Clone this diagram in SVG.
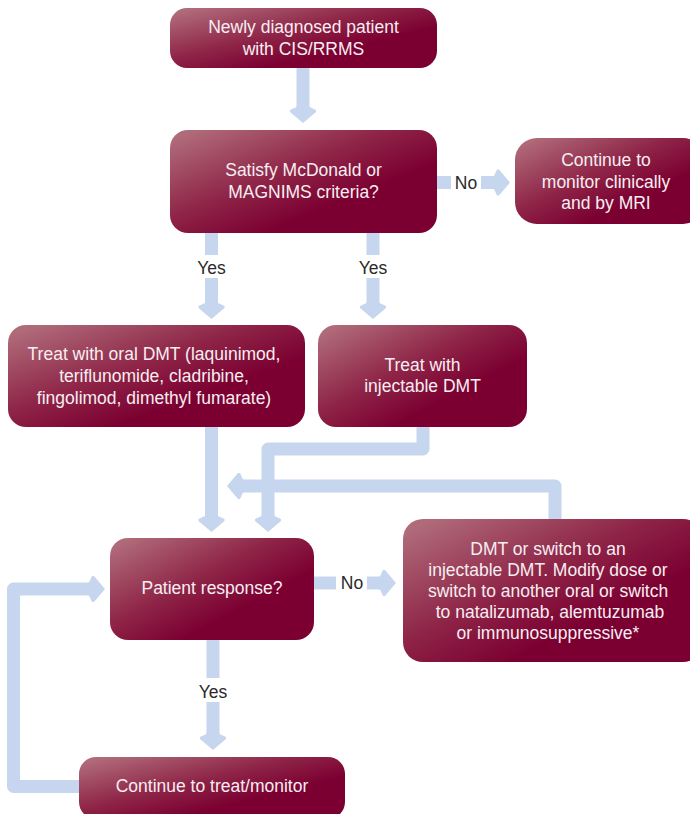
<svg xmlns="http://www.w3.org/2000/svg" width="690" height="814" viewBox="0 0 690 814">
<defs>
<linearGradient id="g" x1="0" y1="0.1" x2="0.85" y2="0.9">
<stop offset="0" stop-color="#b06b7a"/>
<stop offset="0.45" stop-color="#8e2447"/>
<stop offset="0.75" stop-color="#7b0031"/>
<stop offset="1" stop-color="#7b0031"/>
</linearGradient>
<marker id="ah" markerUnits="userSpaceOnUse" markerWidth="20" markerHeight="30" refX="0" refY="15" orient="auto" overflow="visible">
<path d="M-1,8.5 L0,8.5 L3,2 L5,2 L16,15 L5,28 L3,28 L0,21.5 L-1,21.5 Z" fill="#c6d6ee"/>
</marker>
<style>
.box{fill:url(#g)}
.t{font-family:"Liberation Sans",Arial,sans-serif;font-size:17.5px;fill:#f7eef1;text-anchor:middle}
.l{font-family:"Liberation Sans",Arial,sans-serif;font-size:17.5px;fill:#2a2a2a;text-anchor:middle}
.c{fill:none;stroke:#c6d6ee;stroke-width:13;stroke-linejoin:round}
.a{marker-end:url(#ah)}
</style>
</defs>
<g id="connectors">
<path class="c a" d="M303,68 V107"/>
<path class="c" d="M437,182.5 H451"/>
<path class="c a" d="M481,182.5 H494"/>
<text class="l" x="466" y="188.5">No</text>
<path class="c" d="M211.5,233 V255"/>
<path class="c a" d="M211.5,278 V303"/>
<text class="l" x="211.5" y="274">Yes</text>
<path class="c" d="M373,233 V255"/>
<path class="c a" d="M373,278 V303"/>
<text class="l" x="373" y="274">Yes</text>
<path class="c a" d="M211.5,427 V516"/>
<path class="c a" d="M423,427 V449 H268 V516"/>
<path class="c a" d="M555,519 V486 H243"/>
<path class="c" d="M313,583 H336"/>
<path class="c a" d="M367,583 H380"/>
<text class="l" x="352" y="589">No</text>
<path class="c" d="M213,640 V678"/>
<path class="c a" d="M213,702 V734"/>
<text class="l" x="213" y="698">Yes</text>
<path class="c a" d="M79,786.5 H13.5 V589 H89"/>
</g>
<g id="n1"><rect class="box" x="170" y="8" width="267" height="60" rx="17"/>
<text class="t" x="303.5" y="33">Newly diagnosed patient</text>
<text class="t" x="303.5" y="55">with CIS/RRMS</text></g>
<g id="n2"><rect class="box" x="170" y="130" width="267" height="103" rx="18"/>
<text class="t" x="303.5" y="176">Satisfy McDonald or</text>
<text class="t" x="303.5" y="198">MAGNIMS criteria?</text></g>
<g id="n3"><rect class="box" x="515" y="138" width="190" height="86" rx="22"/>
<text class="t" x="606" y="166">Continue to</text>
<text class="t" x="606" y="187.5">monitor clinically</text>
<text class="t" x="606" y="209">and by MRI</text></g>
<g id="n4"><rect class="box" x="8" y="325" width="297" height="102" rx="18"/>
<text class="t" x="154" y="360">Treat with oral DMT (laquinimod,</text>
<text class="t" x="154" y="382">teriflunomide, cladribine,</text>
<text class="t" x="154" y="403.5">fingolimod, dimethyl fumarate)</text></g>
<g id="n5"><rect class="box" x="318" y="325" width="209" height="102" rx="18"/>
<text class="t" x="422.5" y="371">Treat with</text>
<text class="t" x="422.5" y="392">injectable DMT</text></g>
<g id="n6"><rect class="box" x="110" y="538" width="204" height="102" rx="18"/>
<text class="t" x="212" y="594">Patient response?</text></g>
<g id="n7"><rect class="box" x="403" y="519" width="300" height="143" rx="20"/>
<text class="t" x="548" y="555">DMT or switch to an</text>
<text class="t" x="548" y="576">injectable DMT. Modify dose or</text>
<text class="t" x="548" y="597">switch to another oral or switch</text>
<text class="t" x="550" y="618">to natalizumab, alemtuzumab</text>
<text class="t" x="548" y="639">or immunosuppressive*</text></g>
<g id="n8"><rect class="box" x="79" y="757" width="266" height="62" rx="17"/>
<text class="t" x="212" y="792">Continue to treat/monitor</text></g>
</svg>
